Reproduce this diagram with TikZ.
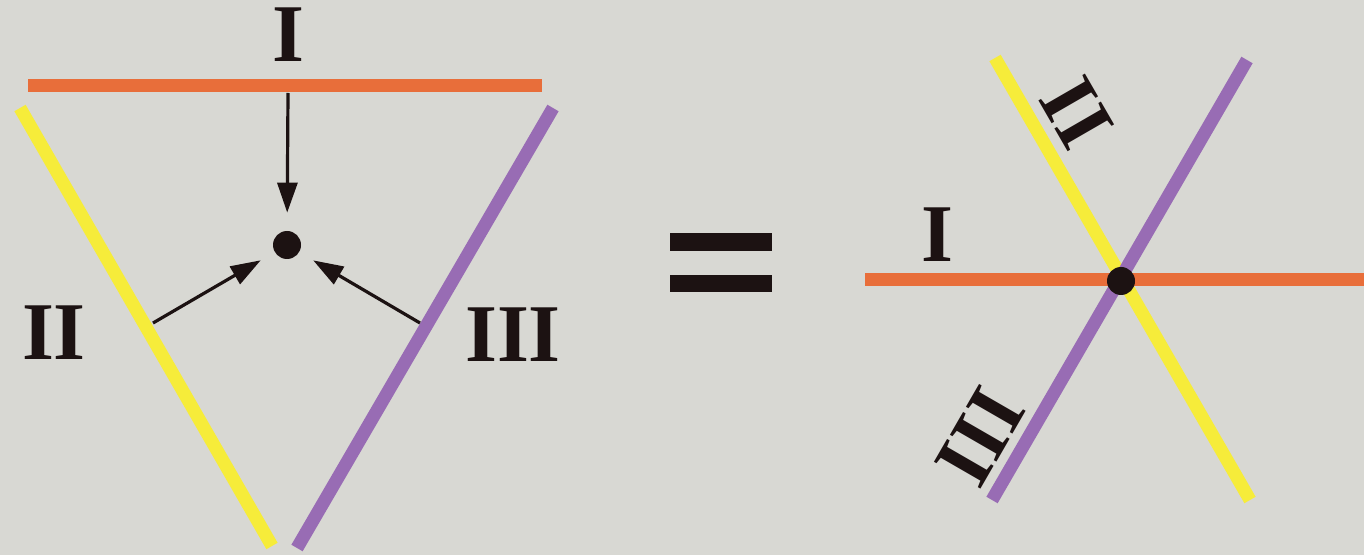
\documentclass[tikz,border=0pt]{standalone}
\usepackage{fontspec}
\setmainfont{Liberation Serif}
\usetikzlibrary{arrows.meta}
\definecolor{bg}{RGB}{216,216,211}
\definecolor{lineI}{RGB}{232,110,58}
\definecolor{lineII}{RGB}{246,236,58}
\definecolor{lineIII}{RGB}{152,108,180}
\definecolor{ink}{RGB}{28,18,18}
\tikzset{
  bar/.style={line width=6.5pt},
  lbl/.style={inner sep=0pt, text=ink, font=\fontsize{41}{41}\selectfont\bfseries},
  pt/.style={circle, fill=ink, inner sep=0pt, minimum size=14pt},
  arr/.style={draw=ink, line width=1.6pt, -{Triangle[length=15pt,width=10pt]}},
}
\begin{document}
\begin{tikzpicture}[x=0.5pt,y=-0.5pt]
\fill[bg] (0,0) rectangle (1364,555);
\useasboundingbox (0,0) rectangle (1364,555);
% ---------- left figure ----------
\draw[bar, lineI] (28,86) -- (542,86);
\draw[bar, lineII] (20,108) -- (272,546);
\draw[bar, lineIII] (553,108) -- (297,548);
\node[pt] (P) at (287,245) {};
\coordinate (aI) at (288,93);
\coordinate (aII) at (153,323);
\coordinate (aIII) at (420,323);
\draw[arr, shorten >=9pt] (aI) -- (P);
\draw[arr, shorten >=8pt] (aII) -- (P);
\draw[arr, shorten >=8pt] (aIII) -- (P);
\node[lbl] (LI) at (288,35) {I};
\node[lbl] (LII) at (54,333) {II};
\node[lbl] (LIII) at (513,335) {III};
% ---------- equals sign ----------
\fill[ink] (670,233) rectangle (772,251);
\fill[ink] (670,275) rectangle (772,292);
% ---------- right figure ----------
\draw[bar, lineI] (865,280) -- (1364,280);
\draw[bar, lineII] (995,58) -- (1250,500);
\draw[bar, lineIII] (1247,60) -- (992,500);
\node[pt] (Q) at (1121,281) {};
\node[lbl] (RI) at (937,235) {I};
\node[lbl, rotate=-60] (RII) at (1077,113) {II};
\node[lbl, rotate=60] (RIII) at (980,437) {III};
\end{tikzpicture}
\end{document}
